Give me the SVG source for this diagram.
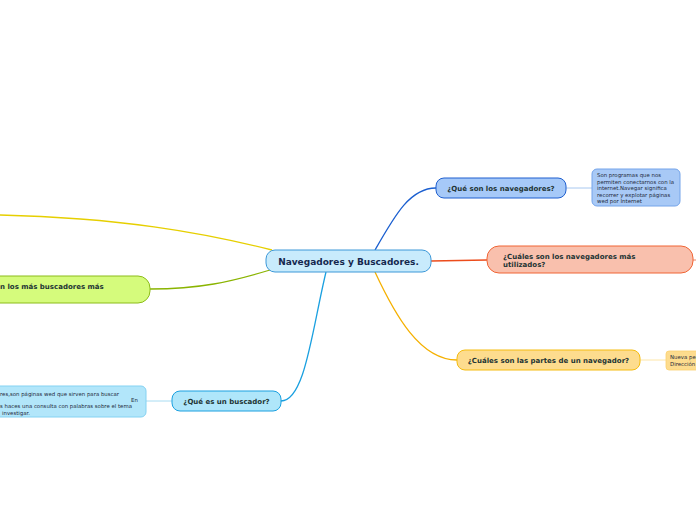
<svg xmlns="http://www.w3.org/2000/svg" width="696" height="520" viewBox="0 0 696 520">
<style>
.t{font-family:"DejaVu Sans",Verdana,sans-serif;font-weight:bold;font-size:7px;fill:#1e3434}
.s{font-family:"DejaVu Sans",Verdana,sans-serif;font-size:5.4px;fill:#1e2a3a}
.c{fill:none;stroke-width:1.3}
</style>
<rect width="696" height="520" fill="#ffffff"/>
<g id="connectors">
<path class="c" d="M272,250 C200,232 120,218 0,215" stroke="#e6cf00"/>
<path class="c" d="M270,270 C230,282 200,289 150,289" stroke="#8ab400"/>
<path class="c" d="M326,272 C312,330 305,401 281,401" stroke="#1aa0e0"/>
<path class="c" d="M375,250 C395,215 410,188 436,188" stroke="#1b5fd0"/>
<path class="c" d="M431,261 L487,260" stroke="#ec4c1c"/>
<path class="c" d="M375,272 C395,315 420,360 457,360" stroke="#f5b000"/>
<path d="M566,188 L592,188" stroke="#a8c8f0" stroke-width="1"/>
<path d="M693,260 L696,260" stroke="#f08060" stroke-width="1"/>
<path d="M640,360 L666,360" stroke="#fde6a8" stroke-width="1"/>
<path d="M172,401 L146,401" stroke="#a8dcf2" stroke-width="1"/>
</g>
<g id="central">
<rect x="266" y="250" width="165" height="22" rx="9" fill="#c8ebfc" stroke="#3c98d8" stroke-width="1"/>
<text x="348.5" y="264.5" text-anchor="middle" style="font-family:'DejaVu Sans',Verdana,sans-serif;font-weight:bold;font-size:9px;fill:#15284f">Navegadores y Buscadores.</text>
</g>
<g id="n-que-navegadores">
<rect x="436" y="178" width="130" height="20" rx="8" fill="#a6c9f8" stroke="#1f5fcf" stroke-width="1"/>
<text class="t" x="501" y="190.5" text-anchor="middle">¿Qué son los navegadores?</text>
</g>
<g id="d-que-navegadores">
<rect x="592" y="169" width="88" height="37" rx="5" fill="#a8c9f6" stroke="#74a4ea" stroke-width="1"/>
<text class="s" x="597" y="177">Son programas que nos</text>
<text class="s" x="597" y="183.5">permiten conectarnos con la</text>
<text class="s" x="597" y="190">internet.Navegar significa</text>
<text class="s" x="597" y="196.5">recorrer y explotar páginas</text>
<text class="s" x="597" y="203">wed por Internet</text>
</g>
<g id="n-cuales-utilizados">
<rect x="487" y="246" width="206" height="27" rx="12" fill="#f9c0ad" stroke="#f06434" stroke-width="1"/>
<text class="t" x="503" y="258.5">¿Cuáles son los navegadores más</text>
<text class="t" x="503" y="267">utilizados?</text>
</g>
<g id="n-partes">
<rect x="457" y="350" width="183" height="20" rx="8" fill="#fddc8e" stroke="#f5bc10" stroke-width="1"/>
<text class="t" x="548.5" y="362.5" text-anchor="middle">¿Cuáles son las partes de un navegador?</text>
</g>
<g id="d-partes">
<rect x="666" y="351" width="40" height="19" rx="3" fill="#fddc8e" stroke="#fbd070" stroke-width="0.8"/>
<text class="s" x="670" y="359">Nueva pe</text>
<text class="s" x="670" y="365.5">Dirección</text>
</g>
<g id="n-buscadores-utilizados">
<rect x="-60" y="276" width="210" height="27" rx="12" fill="#d5fb7c" stroke="#8cbc1a" stroke-width="1"/>
<text class="t" x="0" y="288.5">n los más buscadores más</text>
</g>
<g id="n-que-buscador">
<rect x="172" y="391" width="109" height="20" rx="8" fill="#afe6fa" stroke="#1aa0e0" stroke-width="1"/>
<text class="t" x="226.5" y="403.5" text-anchor="middle">¿Qué es un buscador?</text>
</g>
<g id="d-que-buscador">
<rect x="-20" y="386" width="166" height="31" rx="5" fill="#b2e6fa" stroke="#84d2f2" stroke-width="1"/>
<text class="s" x="0" y="396">res,son páginas wed que sirven para buscar</text>
<text class="s" x="131" y="402">En</text>
<text class="s" x="0" y="408">s haces una consulta con palabras sobre el tema</text>
<text class="s" x="2" y="414.5">investigar.</text>
</g>
</svg>
